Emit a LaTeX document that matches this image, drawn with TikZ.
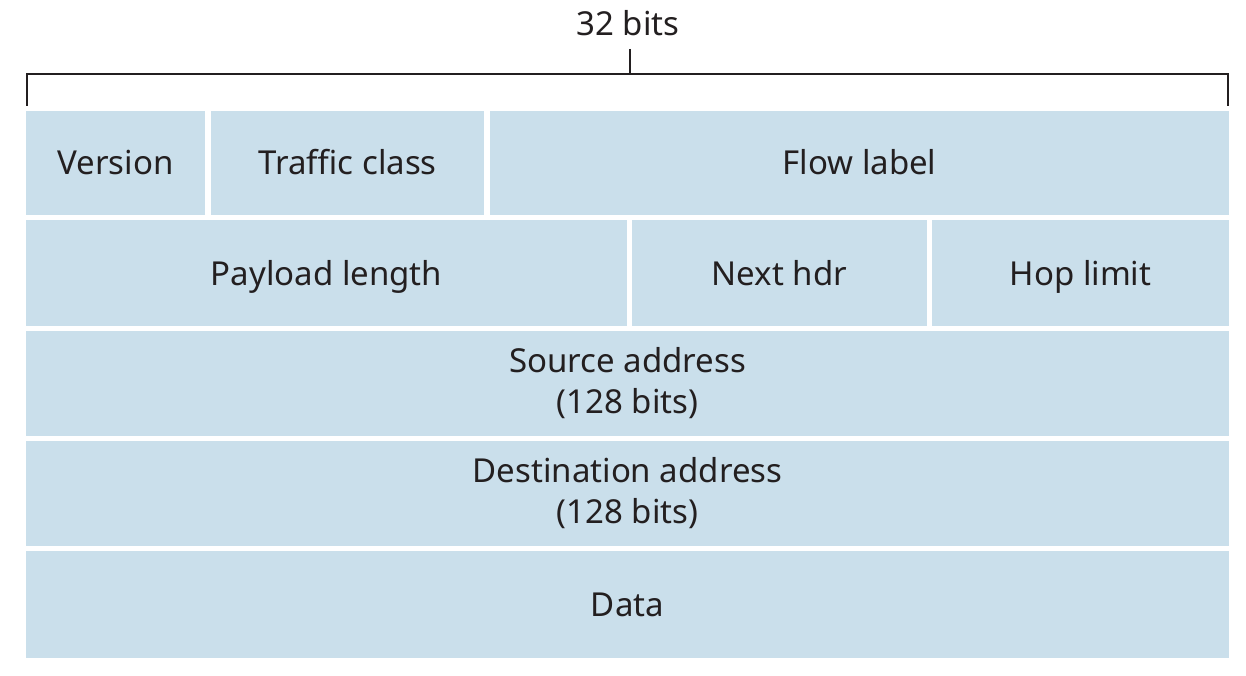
\documentclass[tikz,border=0pt]{standalone}
\usepackage{fontspec}
\setmainfont{Noto Sans}
\definecolor{fieldfill}{RGB}{202,223,235}
\definecolor{ink}{RGB}{35,31,32}
\begin{document}
\begin{tikzpicture}[x=1pt,y=-1pt,
  field/.style={fill=fieldfill, draw=none, anchor=north west, outer sep=0pt,
    inner sep=0pt, text=ink, align=center,
    font=\fontsize{33}{41}\selectfont},
  bracket/.style={draw=ink, line width=2pt}]
\useasboundingbox (0,0) rectangle (1246,676);

% 32-bit width bracket
\node[text=ink, font=\fontsize{33}{41}\selectfont, text height=24pt, text depth=0pt] (bits) at (628,24) {32 bits};
\coordinate (bl) at (27,106);
\coordinate (br) at (1228,106);
\coordinate (ticktop) at (630,49);
\draw[bracket] (bl) |- (br |- 0,74) -- (br);
\draw[bracket] (ticktop) -- (ticktop |- 0,74);

% Row 1
\node[field, minimum width=179pt, minimum height=104pt, text height=24pt, text depth=0pt] (ver) at (26,111) {Version};
\node[field, minimum width=273pt, minimum height=104pt, text height=24pt, text depth=0pt] (tc) at (211,111) {Traffic class};
\node[field, minimum width=739pt, minimum height=104pt, text height=24pt, text depth=0pt] (flow) at (490,111) {Flow label};

% Row 2
\node[field, minimum width=601pt, minimum height=106pt, text height=24pt, text depth=0pt] (plen) at (26,220) {Payload length};
\node[field, minimum width=295pt, minimum height=106pt, text height=24pt, text depth=0pt] (nh) at (632,220) {Next hdr};
\node[field, minimum width=297pt, minimum height=106pt, text height=24pt, text depth=0pt] (hop) at (932,220) {Hop limit};

% Rows 3-5
\node[field, minimum width=1203pt, minimum height=105pt] (src) at (26,331) {Source address\\(128 bits)};
\node[field, minimum width=1203pt, minimum height=105pt] (dst) at (26,441) {Destination address\\(128 bits)};
\node[field, minimum width=1203pt, minimum height=107pt, text height=24pt, text depth=0pt] (data) at (26,551) {Data};
\end{tikzpicture}
\end{document}
